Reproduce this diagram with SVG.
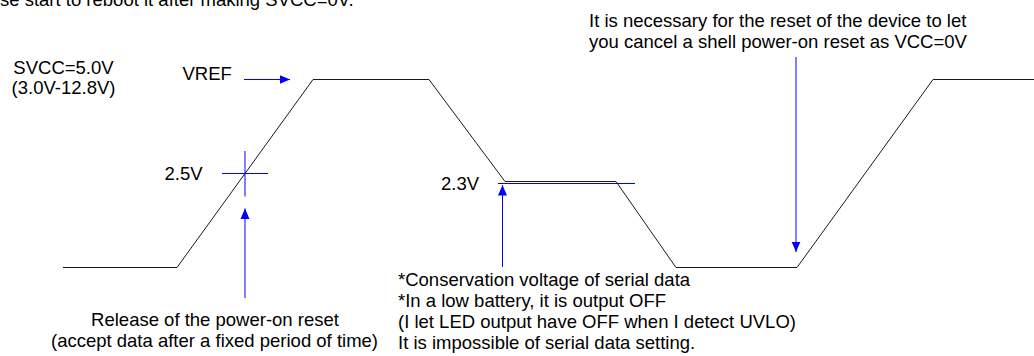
<svg xmlns="http://www.w3.org/2000/svg" width="1034" height="356" viewBox="0 0 1034 356">
<style>
text{font-family:"Liberation Sans",Arial,sans-serif;font-size:18.5px;fill:#000}
.wave{fill:none;stroke:#1a1a1a;stroke-width:1}
.blue{fill:none;stroke:#0000ff;stroke-width:1}
.arr{fill:none;stroke:#0000ff;stroke-width:1;marker-end:url(#ah)}
.mid{text-anchor:middle}
</style>
<defs>
<marker id="ah" markerUnits="userSpaceOnUse" markerWidth="11" markerHeight="10" refX="10.5" refY="5" orient="auto">
<path d="M0,0.5 L10.5,5 L0,9.5 z" fill="#0000ff"/>
</marker>
</defs>
<rect width="1034" height="356" fill="#fff"/>
<g id="waveform">
<polyline class="wave" points="63,267.5 177,267.5 313,79.5 429,79.5 505,181.5 616,181.5 676,267.5 797,267.5 933,79.5 1034,79.5"/>
</g>
<g id="top-note"><text x="0" y="6">se start to reboot it after making SVCC=0V.</text></g>
<g id="svcc"><text class="mid" x="63.5" y="73.5">SVCC=5.0V</text><text class="mid" x="63.5" y="94">(3.0V-12.8V)</text></g>
<g id="vref"><text x="182.5" y="80">VREF</text></g>
<g id="v25"><text x="164.5" y="179.5">2.5V</text>
<line class="blue" x1="222" y1="173.5" x2="268" y2="173.5"/>
<line class="blue" x1="245" y1="151" x2="245" y2="196.5"/></g>
<g id="v23"><text x="441" y="190">2.3V</text>
<line class="blue" x1="498" y1="183.5" x2="635" y2="183.5"/></g>
<g id="release"><text class="mid" x="215" y="326">Release of the power-on reset</text><text class="mid" x="214.5" y="347">(accept data after a fixed period of time)</text></g>
<g id="conservation">
<text x="398" y="285.5">*Conservation voltage of serial data</text>
<text x="398" y="306.5">*In a low battery, it is output OFF</text>
<text x="398" y="327.5">(I let LED output have OFF when I detect UVLO)</text>
<text x="398" y="348.5">It is impossible of serial data setting.</text>
</g>
<g id="reset-note">
<text x="589" y="26.5">It is necessary for the reset of the device to let</text>
<text x="589" y="48">you cancel a shell power-on reset as VCC=0V</text>
</g>
<g id="connectors">
<line class="arr" x1="244" y1="79.5" x2="290" y2="79.5"/>
<line class="arr" x1="245" y1="298" x2="245" y2="208.5"/>
<line class="arr" x1="502.5" y1="267" x2="502.5" y2="185"/>
<line class="arr" x1="796" y1="57" x2="796" y2="252"/>
</g>
</svg>
